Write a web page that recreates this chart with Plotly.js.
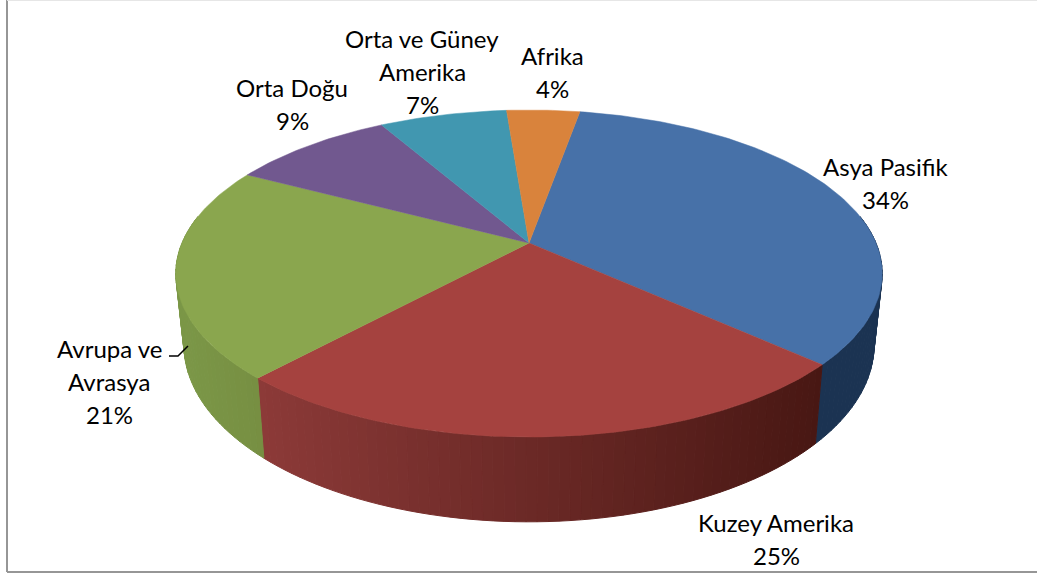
<!DOCTYPE html>
<html><head><meta charset="utf-8">
<script src="https://cdn.plot.ly/plotly-3.0.1.min.js"></script>
<style>html,body{margin:0;padding:0;background:#fff}</style></head>
<body><div id="chart" style="width:1037px;height:577px"></div>
<script>
const regions = ["Asya Pasifik","Kuzey Amerika","Avrupa ve Avrasya","Orta Doğu","Orta ve Güney Amerika","Afrika"];
const shares = [34,25,21,9,7,4];
const topColors = ["#4771a8","#a5423f","#8aa64e","#71588f","#4197b0","#d9833c"];
// wall colour stops: [left colour, right colour]
const wallColors = [["#1b3352","#1b3352"],["#8c3a38","#481713"],["#7a9546","#778f42"],["#5a4672","#5a4672"],["#337a8c","#337a8c"],["#ad6930","#ad6930"]];
const labelLines = [["Asya Pasifik","34%"],["Kuzey Amerika","25%"],["Avrupa ve","Avrasya","21%"],["Orta Doğu","9%"],["Orta ve Güney","Amerika","7%"],["Afrika","4%"]];
const labelAnchors = [[885,166],[776,522],[109,348],[292,87],[422,38],[552,55]];
const lineGap = 33;

// Pie geometry: a tilted disc seen in perspective
const cx=529, cy=243, RX=347, RY=157.8, K=0.1866, DEPTH=69, SHRINK=0.977, START=10;
const rad=d=>d*Math.PI/180;
function topPt(a){const X=Math.sin(rad(a)),Y=Math.cos(rad(a)),w=1+K*Y;return [cx+RX*X/w, cy-RY*Y/w, w];}
function botPt(a){const p=topPt(a);return [cx+SHRINK*(p[0]-cx), p[1]+DEPTH/p[2]];}
function hex(c){return [1,3,5].map(i=>parseInt(c.substr(i,2),16));}
function mix(a,b,t){const A=hex(a),B=hex(b);return "rgb("+A.map((v,i)=>Math.round(v+(B[i]-v)*t)).join(",")+")";}

const traces=[], total=shares.reduce((s,v)=>s+v,0);
let bounds=[START];
shares.forEach(v=>bounds.push(bounds[bounds.length-1]+v/total*360));

// side walls
shares.forEach((v,i)=>{
  const a0=Math.max(bounds[i],80), a1=Math.min(bounds[i+1],280);
  if(a1<=a0) return;
  const n=Math.max(1,Math.ceil((a1-a0)/1.5));
  for(let j=0;j<n;j++){
    const s=a0+(a1-a0)*j/n, e=a0+(a1-a0)*(j+1)/n;
    const ps=[topPt(s),topPt(e),botPt(e),botPt(s),topPt(s)];
    const xm=(ps[0][0]+ps[1][0])/2;
    const xs=[topPt(a0)[0],topPt(a1)[0]];
    const t=(xm-Math.min(...xs))/Math.max(1,Math.abs(xs[0]-xs[1]));
    const col=mix(wallColors[i][0],wallColors[i][1],t);
    traces.push({type:"scatter",mode:"lines",x:ps.map(p=>p[0]),y:ps.map(p=>p[1]),fill:"toself",fillcolor:col,line:{color:col,width:1},hoverinfo:"skip",showlegend:false});
  }
});
// top faces
shares.forEach((v,i)=>{
  const xs=[cx],ys=[cy];
  for(let a=bounds[i];a<bounds[i+1];a+=1){const p=topPt(a);xs.push(p[0]);ys.push(p[1]);}
  const e=topPt(bounds[i+1]);xs.push(e[0],cx);ys.push(e[1],cy);
  traces.push({type:"scatter",mode:"lines",name:regions[i],x:xs,y:ys,fill:"toself",fillcolor:topColors[i],line:{color:topColors[i],width:0.5},hoverinfo:"name",showlegend:false});
});
// leader line
traces.push({type:"scatter",mode:"lines",x:[169,178,188],y:[356,356,346],line:{color:"#000",width:1.5},hoverinfo:"skip",showlegend:false});

const annotations=[];
labelLines.forEach((lines,i)=>lines.forEach((t,j)=>annotations.push({
  x:labelAnchors[i][0],y:labelAnchors[i][1]+j*lineGap,xref:"x",yref:"y",text:t,showarrow:false,
  xanchor:"center",yanchor:"middle",font:{family:"Lato, sans-serif",size:24,color:"#000"}})));

const layout={width:1037,height:577,margin:{l:0,r:0,t:0,b:0},paper_bgcolor:"#fff",plot_bgcolor:"#fff",showlegend:false,
  xaxis:{range:[0,1037],visible:false,fixedrange:true},
  yaxis:{range:[577,0],visible:false,fixedrange:true},
  annotations,
  shapes:[
    {type:"line",xref:"x",yref:"y",x0:7,x1:7,y0:0,y1:572,line:{color:"#969696",width:2}},
    {type:"line",xref:"x",yref:"y",x0:7,x1:1037,y0:572,y1:572,line:{color:"#969696",width:2}},
    {type:"line",xref:"x",yref:"y",x0:7,x1:1037,y0:0.5,y1:0.5,line:{color:"#e6e6e6",width:1}}
  ]};
Plotly.newPlot("chart",traces,layout,{displayModeBar:false,staticPlot:true});
</script></body></html>
